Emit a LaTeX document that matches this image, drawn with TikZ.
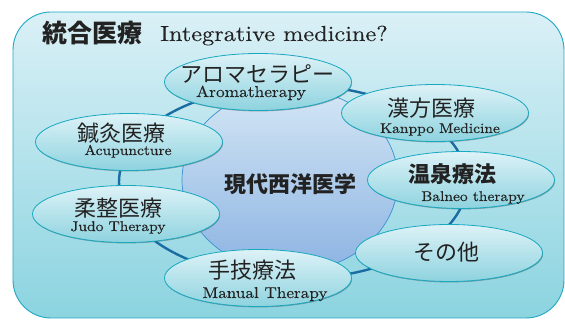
\documentclass[tikz,border=0pt]{standalone}
\usepackage{fontspec}
\newfontfamily\jp{Noto Sans CJK JP}
\newfontfamily\enf{lmroman10-regular.otf}[FakeStretch=1.1, FakeBold=0.35]
\newfontfamily\entitle{lmroman10-regular.otf}[FakeStretch=1.12, FakeBold=0.2]
\usetikzlibrary{shapes.geometric,shadows}
\definecolor{boxline}{HTML}{1FA8C3}
\definecolor{boxtop}{HTML}{DAF0F6}
\definecolor{boxbot}{HTML}{8BD4E0}
\definecolor{eltop}{HTML}{DDF2F7}
\definecolor{elbot}{HTML}{8ED3DF}
\definecolor{elline}{HTML}{18A8C0}
\definecolor{coretop}{HTML}{D4E7F5}
\definecolor{corebot}{HTML}{8CB3E2}
\definecolor{coreline}{HTML}{3B90D0}
\definecolor{ringc}{HTML}{1B6CA3}
\definecolor{ink}{HTML}{222222}
\tikzset{
  x=1pt, y=-1pt,
  frame/.style={draw=boxline, line width=0.9pt, rounded corners=38pt, top color=boxtop, bottom color=boxbot},
  ringe/.style={ellipse, draw=ringc, line width=2.4pt, minimum width=348pt, minimum height=194pt, inner sep=0pt},
  corec/.style={ellipse, draw=coreline, line width=0.7pt, top color=coretop, bottom color=corebot, minimum width=216pt, minimum height=184pt, inner sep=0pt},
  bubble/.style={ellipse, draw=elline, line width=0.8pt, top color=eltop, bottom color=elbot, minimum width=187pt, minimum height=57pt, inner sep=0pt,
    drop shadow={shadow xshift=0.6pt, shadow yshift=-0.9pt, fill=black!70, opacity=0.45}},
  jplab/.style={inner sep=0pt, text=ink, font=\jp\fontsize{22}{24}\selectfont},
  jpbold/.style={inner sep=0pt, text=ink, font=\jp\bfseries\fontsize{22}{24}\selectfont},
  enlab/.style={inner sep=0pt, anchor=base, text=ink},
}
\begin{document}
\begin{tikzpicture}
\useasboundingbox (0,0) rectangle (565,320);
\path[frame] (13,12) rectangle (564,318);
% title
\node[inner sep=0pt, text=ink, font=\jp\bfseries\fontsize{25}{28}\selectfont] (title) at (92,33) {統合医療};
\node[inner sep=0pt, anchor=base west, text=ink, font=\entitle\fontsize{21.7}{26}\selectfont] (titleen) at (160,41) {Integrative medicine?};
% ring and core
\node[ringe] (ring) at (293,182) {};
\node[corec] (core) at (290,180) {};
\node[jpbold] (coretext) at (290,184) {現代西洋医学};
% bubbles
\node[bubble] (aroma) at (258,82) {};
\node[bubble] (kanpo) at (435,113) {};
\node[bubble] (shinkyu) at (129,142) {};
\node[bubble] (juusei) at (126,214) {};
\node[bubble] (shugi) at (258,278) {};
\node[bubble] (sonota) at (449,253) {};
\node[bubble] (onsen) at (461,180) {};
% labels
\node[jplab] (aromajp) at (257,74) {アロマセラピー};
\node[enlab, font=\enf\fontsize{15.8}{18}\selectfont] (aromaen) at (251,97) {Aromatherapy};
\node[jplab] (kanpojp) at (431,108) {漢方医療};
\node[enlab, font=\enf\fontsize{14.1}{18}\selectfont] (kanpoen) at (440,133) {Kanppo Medicine};
\node[jplab] (shinkyujp) at (121,133) {鍼灸医療};
\node[enlab, font=\enf\fontsize{14.1}{18}\selectfont] (shinkyuen) at (128,155) {Acupuncture};
\node[jplab] (juuseijp) at (118,208) {柔整医療};
\node[enlab, font=\enf\fontsize{14.1}{18}\selectfont] (juuseien) at (118,231) {Judo Therapy};
\node[jplab] (shugijp) at (252,270) {手技療法};
\node[enlab, font=\enf\fontsize{15.6}{18}\selectfont] (shugien) at (265,298) {Manual Therapy};
\node[jpbold] (onsenjp) at (452,174) {温泉療法};
\node[enlab, font=\enf\fontsize{14.1}{18}\selectfont] (onsenen) at (473,201) {Balneo therapy};
\node[jplab] (sonotajp) at (446,252) {その他};
\end{tikzpicture}
\end{document}
